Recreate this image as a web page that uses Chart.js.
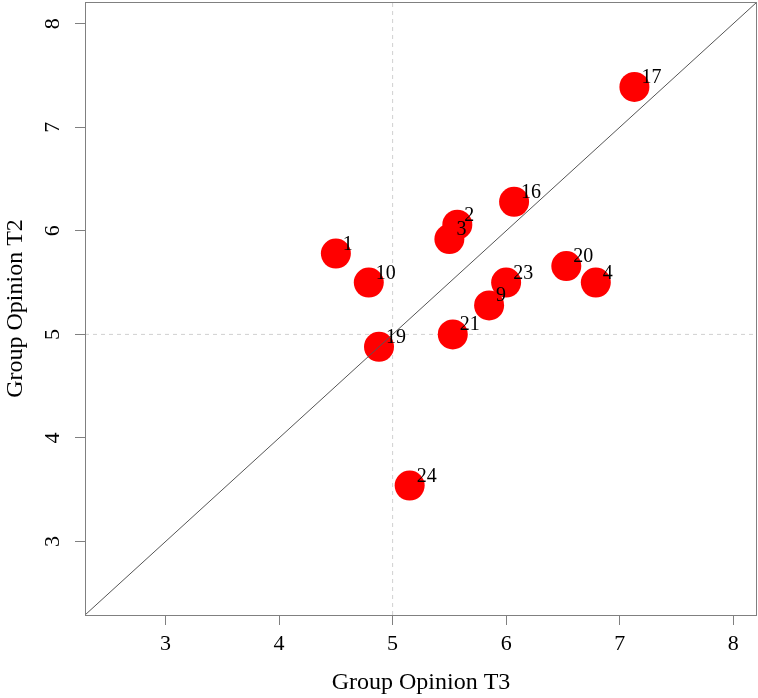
<!DOCTYPE html>
<html>
<head>
<meta charset="utf-8">
<script src="https://cdn.jsdelivr.net/npm/chart.js@4.4.0/dist/chart.umd.min.js"></script>
<style>
  html, body { margin: 0; padding: 0; background: #fff; }
  #wrap { width: 758px; height: 698px; }
</style>
</head>
<body>
<div id="wrap"><canvas id="grafico"></canvas></div>
<script>
/* ----- Datos ----- */
const grupos = ["1", "2", "3", "4", "9", "10", "16", "17", "19", "20", "21", "23", "24"];
const opinionT3 = [4.50, 5.57, 5.50, 6.79, 5.85, 4.79, 6.07, 7.13, 4.88, 6.53, 5.53, 6.00, 5.15];
const opinionT2 = [5.78, 6.06, 5.92, 5.50, 5.28, 5.50, 6.28, 7.39, 4.88, 5.66, 5.00, 5.50, 3.54];
const marcas = [3, 4, 5, 6, 7, 8];
const rango = [2.29, 8.21];
const referencia = 5;

const fuente = "'Liberation Serif', 'Times New Roman', serif";

/* ----- Caja y etiquetas de los puntos ----- */
const caja = {
    id: "caja",
    afterDraw(chart) {
        const { ctx, chartArea: a } = chart;
        ctx.save();
        ctx.strokeStyle = "#808080";
        ctx.lineWidth = 1;
        ctx.strokeRect(a.left + 0.5, a.top + 0.5, a.right - a.left - 1, a.bottom - a.top);
        ctx.restore();
    }
};

const etiquetas = {
    id: "etiquetas",
    afterDatasetsDraw(chart) {
        const { ctx } = chart;
        const meta = chart.getDatasetMeta(1);
        ctx.save();
        ctx.fillStyle = "#000";
        ctx.font = "20px " + fuente;
        ctx.textAlign = "left";
        ctx.textBaseline = "alphabetic";
        meta.data.forEach((p, i) => {
            ctx.fillText(grupos[i], p.x + 7, p.y - 4);
        });
        ctx.restore();
    }
};

/* ----- Gráfico ----- */
new Chart(document.getElementById("grafico"), {
    type: "scatter",
    data: {
        datasets: [
            {
                type: "line",
                data: [{ x: rango[0], y: rango[0] }, { x: rango[1], y: rango[1] }],
                borderColor: "#555",
                borderWidth: 1,
                pointRadius: 0,
                order: 0
            },
            {
                data: opinionT3.map((v, i) => ({ x: v, y: opinionT2[i] })),
                backgroundColor: "#ff0000",
                borderWidth: 0,
                pointRadius: 15,
                order: 1
            },
            {
                type: "line",
                data: [{ x: referencia, y: rango[0] }, { x: referencia, y: rango[1] }],
                borderColor: "#d0d0d0",
                borderWidth: 1,
                borderDash: [4, 4],
                pointRadius: 0,
                order: 2
            },
            {
                type: "line",
                data: [{ x: rango[0], y: referencia }, { x: rango[1], y: referencia }],
                borderColor: "#d0d0d0",
                borderWidth: 1,
                borderDash: [4, 4],
                pointRadius: 0,
                order: 2
            }
        ]
    },
    options: {
        responsive: true,
        maintainAspectRatio: false,
        animation: false,
        layout: { autoPadding: false, padding: { top: 2, right: 1, left: 0, bottom: 0 } },
        plugins: {
            legend: { display: false },
            tooltip: { enabled: false }
        },
        scales: {
            x: {
                type: "linear",
                min: rango[0],
                max: rango[1],
                afterBuildTicks: s => { s.ticks = marcas.map(v => ({ value: v })); },
                afterFit: s => { s.height = 83; s.paddingLeft = 0; s.paddingRight = 0; },
                border: { display: false },
                grid: { drawOnChartArea: false, drawTicks: true, tickLength: 10, color: "#808080" },
                ticks: { color: "#000", font: { family: fuente, size: 22 }, padding: 6, maxRotation: 0 },
                title: {
                    display: true,
                    text: "Group Opinion T3",
                    color: "#000",
                    font: { family: fuente, size: 24, lineHeight: 1 },
                    padding: { top: 0, bottom: 3 }
                }
            },
            y: {
                type: "linear",
                min: rango[0],
                max: rango[1],
                afterBuildTicks: s => { s.ticks = marcas.map(v => ({ value: v })); },
                afterFit: s => { s.width = 85; s.paddingTop = 0; s.paddingBottom = 0; },
                border: { display: false },
                grid: { drawOnChartArea: false, drawTicks: true, tickLength: 10, color: "#808080" },
                ticks: {
                    color: "#000",
                    font: { family: fuente, size: 22 },
                    padding: 16,
                    minRotation: 90,
                    maxRotation: 90,
                    crossAlign: "center"
                },
                title: {
                    display: true,
                    text: "Group Opinion T2",
                    color: "#000",
                    font: { family: fuente, size: 24, lineHeight: 1 },
                    padding: { top: 4, bottom: 0 }
                }
            }
        }
    },
    plugins: [caja, etiquetas]
});
</script>
</body>
</html>
